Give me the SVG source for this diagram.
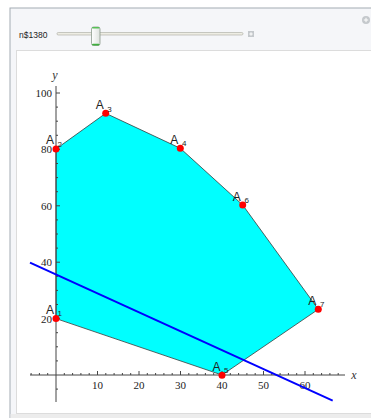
<svg xmlns="http://www.w3.org/2000/svg" width="371" height="418" viewBox="0 0 371 418">
<defs>
<linearGradient id="thumb" x1="0" y1="0" x2="1" y2="0">
<stop offset="0" stop-color="#ffffff"/>
<stop offset="1" stop-color="#dfe3df"/>
</linearGradient>
</defs>
<style>
.tick{font-family:"Liberation Serif",serif;font-size:11px;fill:#222}
.axlab{font-family:"Liberation Serif",serif;font-size:12px;font-style:italic;fill:#333}
.A{font-family:"Liberation Sans",sans-serif;font-size:12px;fill:#222}
.sub{font-family:"Liberation Sans",sans-serif;font-size:8px;fill:#222}
.dot{fill:#ff0000}
</style>
<rect x="0" y="0" width="371" height="418" fill="#ffffff"/>
<rect x="10" y="8" width="362" height="412" fill="#f5f6f9" stroke="#a3abb3" stroke-width="1"/>
<rect x="16.5" y="50.5" width="360" height="363" fill="#ffffff" stroke="#dcdcdc" stroke-width="1"/>
<rect x="10.5" y="414" width="361" height="4" fill="#ececec"/>
<!-- slider -->
<text x="19" y="37.5" font-family="'Liberation Sans',sans-serif" font-size="8.5" fill="#222">n$1380</text>
<rect x="57" y="32.5" width="186" height="2.5" rx="1.2" fill="#eeede4" stroke="#a8a8a0" stroke-width="0.6"/>
<rect x="91.5" y="27" width="8.5" height="18.5" rx="2" fill="url(#thumb)" stroke="#8c9a8c" stroke-width="0.8"/>
<rect x="92" y="27" width="7.5" height="1.6" rx="0.8" fill="#58c058"/>
<rect x="92" y="43.8" width="7.5" height="1.6" rx="0.8" fill="#3fae3f"/>
<rect x="248" y="31" width="6" height="6" fill="#c4c8cc"/>
<path d="M251 32.3v3.4M249.3 34h3.4" stroke="#ffffff" stroke-width="1"/>
<circle cx="366" cy="20" r="4" fill="#c4c8cc"/>
<path d="M366 17.8v4.4M363.8 20h4.4" stroke="#ffffff" stroke-width="1"/>
<!-- region -->
<polygon points="56,318.6 56,149 105.7,113.3 180.3,148.3 242.7,205 318.3,309.3 222,375" fill="#00ffff"/>
<!-- axes -->
<g stroke="#444" stroke-width="1" fill="none">
<path d="M30 375H345M56 86V402"/>
<path d="M31.1 375v-2M39.4 375v-2M47.7 375v-2M64.3 375v-2M72.6 375v-2M80.9 375v-2M89.2 375v-2M97.5 375v-4M105.8 375v-2M114.1 375v-2M122.4 375v-2M130.7 375v-2M139 375v-4M147.3 375v-2M155.6 375v-2M163.9 375v-2M172.2 375v-2M180.5 375v-4M188.8 375v-2M197.1 375v-2M205.4 375v-2M213.7 375v-2M222 375v-4M230.3 375v-2M238.6 375v-2M246.9 375v-2M255.2 375v-2M263.5 375v-4M271.8 375v-2M280.1 375v-2M288.4 375v-2M296.7 375v-2M305 375v-4M313.3 375v-2M321.6 375v-2M329.9 375v-2M338.2 375v-2"/>
<path d="M56 389.1h2M56 360.9h2M56 346.8h2M56 332.7h2M56 318.6h4M56 304.5h2M56 290.4h2M56 276.3h2M56 262.2h4M56 248.1h2M56 234h2M56 219.9h2M56 205.8h4M56 191.7h2M56 177.6h2M56 163.5h2M56 149.4h4M56 135.3h2M56 121.2h2M56 107.1h2M56 93h4"/>
</g>
<g class="tick" text-anchor="middle">
<text x="97.5" y="388.5">10</text>
<text x="139" y="388.5">20</text>
<text x="180.5" y="388.5">30</text>
<text x="222" y="388.5">40</text>
<text x="263.5" y="388.5">50</text>
<text x="305" y="388.5">60</text>
</g>
<g class="tick" text-anchor="end">
<text x="52" y="96.5">100</text>
<text x="52" y="153">80</text>
<text x="52" y="209.5">60</text>
<text x="52" y="266">40</text>
<text x="52" y="322.5">20</text>
</g>
<text class="axlab" x="55" y="79" text-anchor="middle">y</text>
<text class="axlab" x="354" y="379" text-anchor="middle">x</text>
<!-- connectors: region boundary -->
<g id="connectors" fill="none" stroke="#3a3a3a" stroke-width="0.8">
<path d="M56 318.6L56 149L105.7 113.3L180.3 148.3L242.7 205L318.3 309.3L222 375Z"/>
</g>
<!-- objective line -->
<line x1="30" y1="262.7" x2="332.7" y2="400.7" stroke="#0000ff" stroke-width="2"/>
<!-- nodes -->
<g id="A1"><circle class="dot" cx="56" cy="318.6" r="3.5"/><text class="A" x="50" y="313.5" text-anchor="middle">A</text><text class="sub" x="57.5" y="315.5">1</text></g>
<g id="A2"><circle class="dot" cx="56" cy="149" r="3.5"/><text class="A" x="50" y="144" text-anchor="middle">A</text><text class="sub" x="57.5" y="146.5">2</text></g>
<g id="A3"><circle class="dot" cx="105.7" cy="113.3" r="3.5"/><text class="A" x="99.7" y="109.3" text-anchor="middle">A</text><text class="sub" x="107.3" y="111.5">3</text></g>
<g id="A4"><circle class="dot" cx="180.3" cy="148.3" r="3.5"/><text class="A" x="174.3" y="144.3" text-anchor="middle">A</text><text class="sub" x="182" y="146">4</text></g>
<g id="A6"><circle class="dot" cx="242.7" cy="205" r="3.5"/><text class="A" x="236.7" y="201" text-anchor="middle">A</text><text class="sub" x="244.4" y="202.7">6</text></g>
<g id="A7"><circle class="dot" cx="318.3" cy="309.3" r="3.5"/><text class="A" x="312.3" y="305.3" text-anchor="middle">A</text><text class="sub" x="320" y="307">7</text></g>
<g id="A5"><circle class="dot" cx="222" cy="375.3" r="3.5"/><text class="A" x="216.5" y="371.3" text-anchor="middle">A</text><text class="sub" x="224" y="373">5</text></g>
</svg>
